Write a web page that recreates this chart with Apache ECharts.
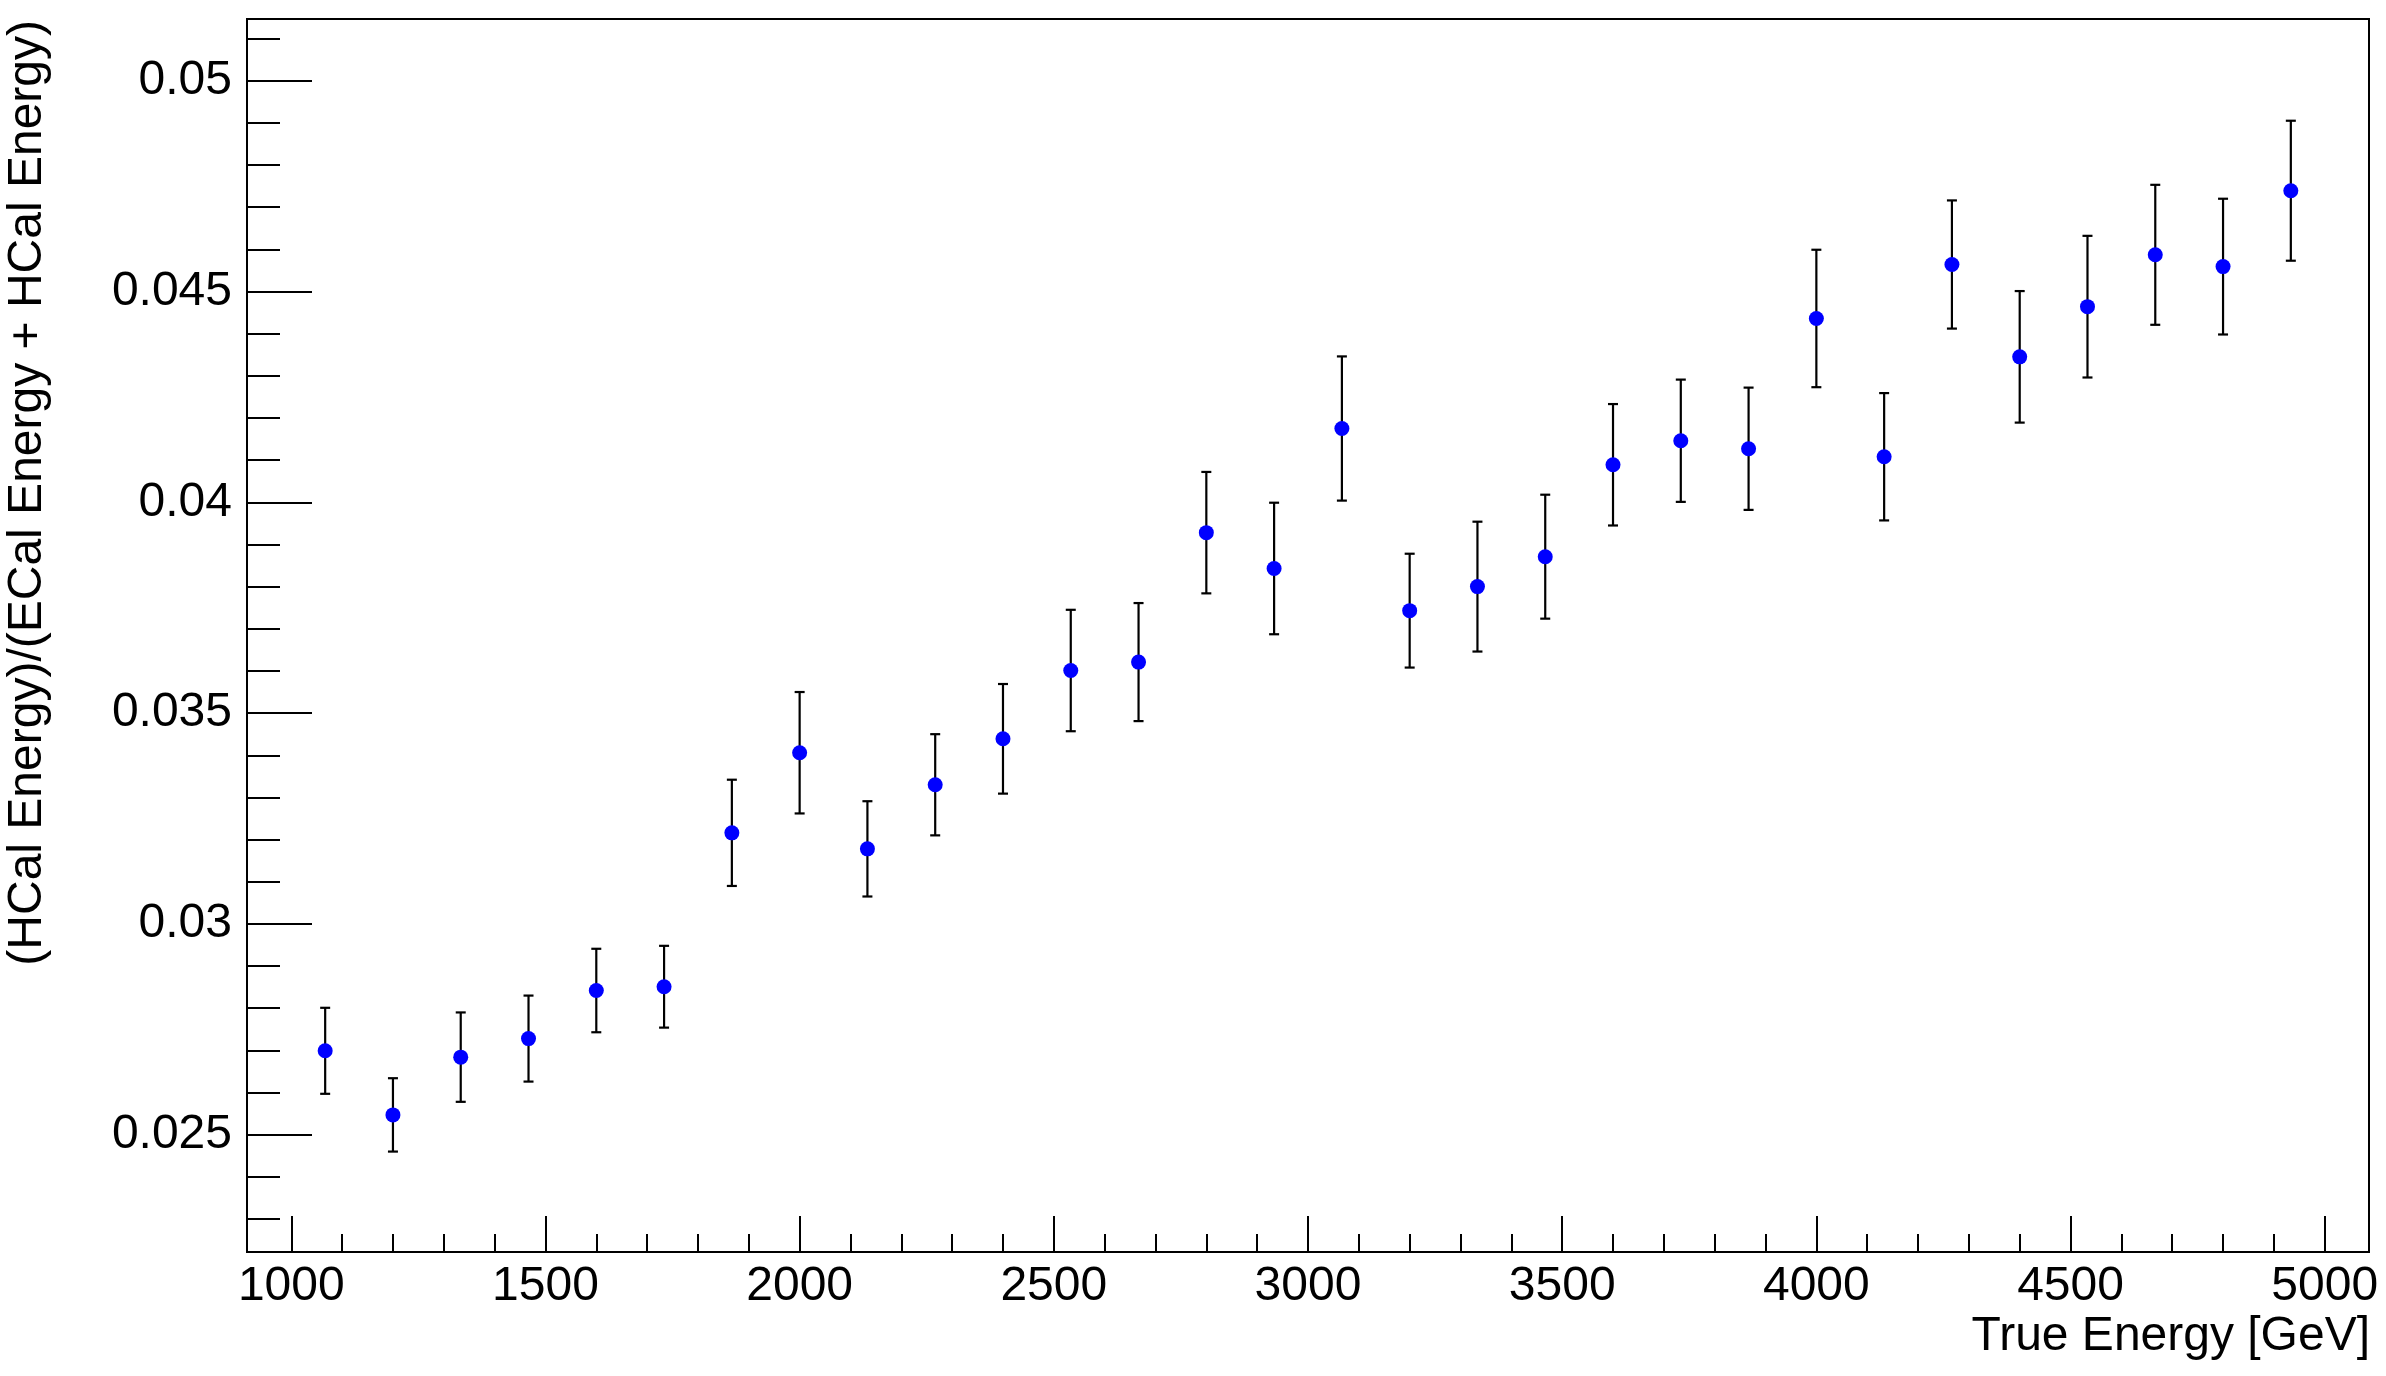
<!DOCTYPE html>
<html>
<head>
<meta charset="utf-8">
<script src="https://cdn.jsdelivr.net/npm/echarts@6/dist/echarts.min.js"></script>
<style>
html,body{margin:0;padding:0;background:#fff;}
#chart{width:2386px;height:1376px;}
</style>
</head>
<body>
<div id="chart"></div>
<script>
// ---- data ----
const trueEnergy = [1066.67, 1200, 1333.33, 1466.67, 1600, 1733.33, 1866.67, 2000, 2133.33, 2266.67,
  2400, 2533.33, 2666.67, 2800, 2933.33, 3066.67, 3200, 3333.33, 3466.67, 3600,
  3733.33, 3866.67, 4000, 4133.33, 4266.67, 4400, 4533.33, 4666.67, 4800, 4933.33];
const hcalFraction = [0.02699, 0.02547, 0.02684, 0.02728, 0.02842, 0.02851, 0.03216, 0.03406, 0.03178, 0.03330,
  0.03439, 0.03601, 0.03621, 0.03928, 0.03843, 0.04175, 0.03743, 0.03800, 0.03871, 0.04089,
  0.04146, 0.04127, 0.04436, 0.04108, 0.04564, 0.04345, 0.04464, 0.04587, 0.04559, 0.04739];
const hcalFractionErr = [0.00102, 0.00087, 0.00106, 0.00102, 0.00099, 0.00097, 0.00126, 0.00144, 0.00113, 0.00120,
  0.00130, 0.00144, 0.00140, 0.00144, 0.00156, 0.00171, 0.00135, 0.00154, 0.00147, 0.00144,
  0.00145, 0.00145, 0.00163, 0.00151, 0.00152, 0.00156, 0.00168, 0.00166, 0.00161, 0.00166];

const xTickValues = [1000, 1500, 2000, 2500, 3000, 3500, 4000, 4500, 5000];
const xTickLabels = ['1000', '1500', '2000', '2500', '3000', '3500', '4000', '4500', '5000'];
const xMinorTickValues = [1100, 1200, 1300, 1400, 1600, 1700, 1800, 1900, 2100, 2200, 2300, 2400,
  2600, 2700, 2800, 2900, 3100, 3200, 3300, 3400, 3600, 3700, 3800, 3900,
  4100, 4200, 4300, 4400, 4600, 4700, 4800, 4900];
const yTickValues = [0.025, 0.03, 0.035, 0.04, 0.045, 0.05];
const yTickLabels = ['0.025', '0.03', '0.035', '0.04', '0.045', '0.05'];
const yMinorTickValues = [0.023, 0.024, 0.026, 0.027, 0.028, 0.029, 0.031, 0.032, 0.033, 0.034,
  0.036, 0.037, 0.038, 0.039, 0.041, 0.042, 0.043, 0.044, 0.046, 0.047, 0.048, 0.049, 0.051];

const xTitle = 'True Energy [GeV]';
const yTitle = '(HCal Energy)/(ECal Energy + HCal Energy)';

// ---- chart ----
const FONT = '"Liberation Sans", Arial, Helvetica, sans-serif';
const X_MIN = 912.9, X_MAX = 5087.1;
const Y_MIN = 0.022218, Y_MAX = 0.051463;

const chart = echarts.init(document.getElementById('chart'), null, {renderer: 'canvas'});

const points = trueEnergy.map((x, i) => [x, hcalFraction[i]]);
const bars = trueEnergy.map((x, i) => [x, hcalFraction[i] - hcalFractionErr[i], hcalFraction[i] + hcalFractionErr[i]]);

function labelFor(values, labels) {
  return function (v) {
    for (let i = 0; i < values.length; i++) {
      if (Math.abs(values[i] - v) < 1e-9 * Math.max(1, Math.abs(v))) return labels[i];
    }
    return String(v);
  };
}

const lineStyle = {color: '#000', width: 2};

chart.setOption({
  animation: false,
  backgroundColor: '#ffffff',
  grid: {
    left: 247, top: 19, right: 17, bottom: 124,
    show: true, borderColor: '#000', borderWidth: 2, backgroundColor: 'transparent',
    containLabel: false
  },
  xAxis: [
    {
      type: 'value', min: X_MIN, max: X_MAX, position: 'bottom',
      axisLine: {show: true, lineStyle: lineStyle},
      axisTick: {show: true, inside: true, length: 36, lineStyle: lineStyle, customValues: xTickValues},
      axisLabel: {show: true, customValues: xTickValues, formatter: labelFor(xTickValues, xTickLabels),
        margin: 11, fontSize: 48, fontFamily: FONT, color: '#000'},
      splitLine: {show: false}
    },
    {
      type: 'value', min: X_MIN, max: X_MAX, position: 'bottom', offset: 0,
      axisLine: {show: false},
      axisTick: {show: true, inside: true, length: 18, lineStyle: lineStyle, customValues: xMinorTickValues},
      axisLabel: {show: false},
      splitLine: {show: false}
    }
  ],
  yAxis: [
    {
      type: 'value', min: Y_MIN, max: Y_MAX, position: 'left',
      axisLine: {show: true, lineStyle: lineStyle},
      axisTick: {show: true, inside: true, length: 65, lineStyle: lineStyle, customValues: yTickValues},
      axisLabel: {show: true, customValues: yTickValues, formatter: labelFor(yTickValues, yTickLabels),
        margin: 15, fontSize: 48, fontFamily: FONT, color: '#000'},
      splitLine: {show: false}
    },
    {
      type: 'value', min: Y_MIN, max: Y_MAX, position: 'left', offset: 0,
      axisLine: {show: false},
      axisTick: {show: true, inside: true, length: 33, lineStyle: lineStyle, customValues: yMinorTickValues},
      axisLabel: {show: false},
      splitLine: {show: false}
    }
  ],
  graphic: [
    {
      type: 'text', x: 2370, y: 1337,
      style: {text: xTitle, font: '48px ' + FONT, fill: '#000', align: 'right', verticalAlign: 'middle'}
    },
    {
      type: 'text', x: 28, y: 20, rotation: Math.PI / 2,
      style: {text: yTitle, font: '48px ' + FONT, fill: '#000', align: 'right', verticalAlign: 'middle'}
    }
  ],
  series: [
    {
      type: 'custom',
      xAxisIndex: 0, yAxisIndex: 0,
      data: bars,
      z: 2,
      renderItem: function (params, api) {
        const x = api.value(0);
        const lo = api.coord([x, api.value(1)]);
        const hi = api.coord([x, api.value(2)]);
        const hw = 5;
        const st = {stroke: '#000', lineWidth: 2.2};
        return {
          type: 'group',
          children: [
            {type: 'line', shape: {x1: lo[0], y1: lo[1], x2: hi[0], y2: hi[1]}, style: st},
            {type: 'line', shape: {x1: lo[0] - hw, y1: lo[1], x2: lo[0] + hw, y2: lo[1]}, style: st},
            {type: 'line', shape: {x1: hi[0] - hw, y1: hi[1], x2: hi[0] + hw, y2: hi[1]}, style: st}
          ]
        };
      }
    },
    {
      type: 'scatter',
      xAxisIndex: 0, yAxisIndex: 0,
      data: points,
      symbol: 'circle',
      symbolSize: 15,
      itemStyle: {color: '#0000ff', opacity: 1},
      z: 3
    }
  ]
});
</script>
</body>
</html>
